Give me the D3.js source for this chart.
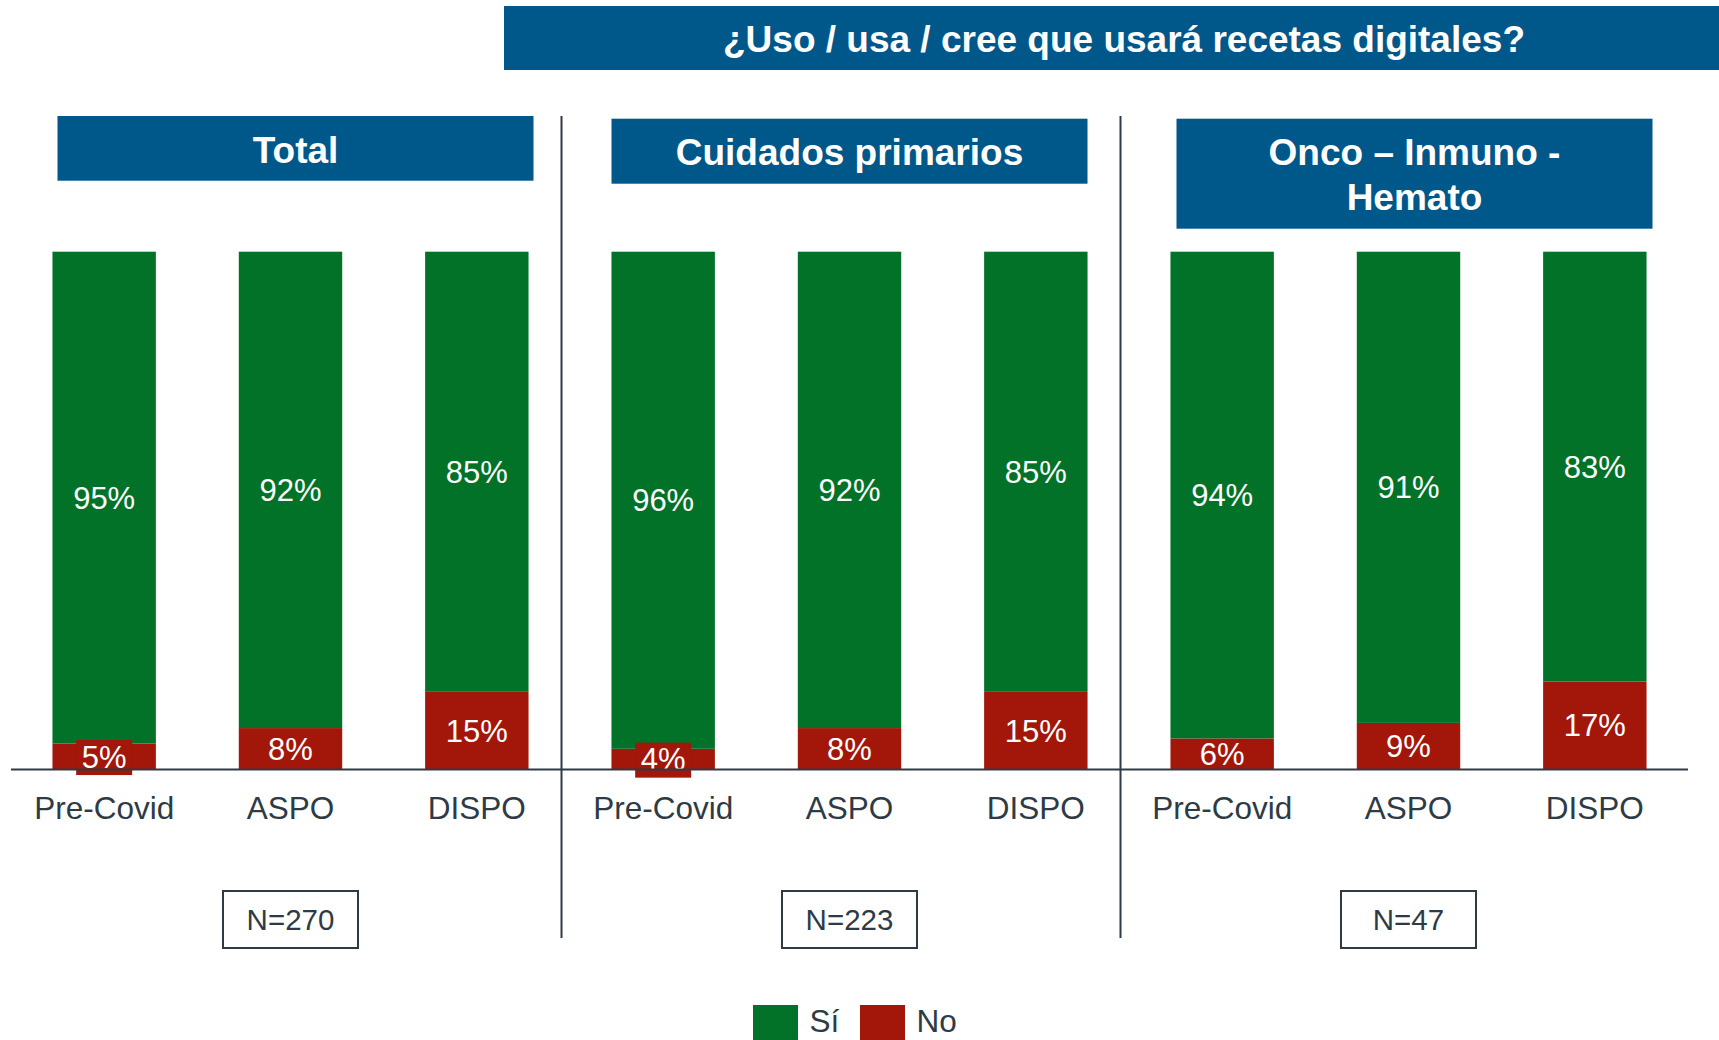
<!DOCTYPE html>
<html>
<head>
<meta charset="utf-8">
<script src="https://cdn.jsdelivr.net/npm/d3@7"></script>
<style>
  html, body { margin: 0; padding: 0; background: #fff; }
  svg { display: block; font-family: "Liberation Sans", Arial, sans-serif; }
</style>
</head>
<body>
<svg id="chart" width="1719" height="1040"></svg>
<script>
// data
var title = "¿Uso / usa / cree que usará recetas digitales?";
var groups = ["Total", "Cuidados primarios", "Onco – Inmuno - Hemato"];
var groupLines = [["Total"], ["Cuidados primarios"], ["Onco – Inmuno -", "Hemato"]];
var periods = ["Pre-Covid", "ASPO", "DISPO"];
var si = [[95, 92, 85], [96, 92, 85], [94, 91, 83]];
var no = [[5, 8, 15], [4, 8, 15], [6, 9, 17]];
var sampleN = ["N=270", "N=223", "N=47"];
var legendLabels = ["Sí", "No"];

var BLUE = "#00578a", GREEN = "#037229", RED = "#a2170a", DARK = "#2e3b45";

var svg = d3.select("#chart");

var x0 = d3.scaleBand().domain(groups).range([11, 1688]).padding(0);
var x1 = d3.scaleBand().domain(periods).range([0, x0.bandwidth()])
  .paddingInner(0.445).paddingOuter(0.2225);
var y = d3.scaleLinear().domain([0, 100]).range([769.5, 251.7]);
var color = d3.scaleOrdinal().domain(legendLabels).range([GREEN, RED]);

// title banner
svg.append("rect").attr("x", 504).attr("y", 6).attr("width", 1240).attr("height", 64).attr("fill", BLUE);
svg.append("text").attr("x", 1124).attr("y", 52).attr("text-anchor", "middle")
  .attr("fill", "#fff").attr("font-weight", "bold").attr("font-size", 37).text(title);

// group header boxes
var headTop = [116, 118.7, 118.7];
var headH = [64.7, 65, 110];
var headDx = [5, 0, 6];
groups.forEach(function (g, gi) {
  var cx = x0(g) + x0.bandwidth() / 2 + headDx[gi];
  svg.append("rect").attr("x", cx - 238).attr("y", headTop[gi]).attr("width", 476).attr("height", headH[gi]).attr("fill", BLUE);
  var t = svg.append("text").attr("text-anchor", "middle").attr("fill", "#fff")
    .attr("font-weight", "bold").attr("font-size", 37);
  groupLines[gi].forEach(function (line, li) {
    t.append("tspan").attr("x", cx).attr("y", headTop[gi] + 46.5 + li * 45).text(line);
  });
});

// dividers
groups.slice(1).forEach(function (g) {
  svg.append("line").attr("x1", x0(g) - 8.5).attr("x2", x0(g) - 8.5)
    .attr("y1", 116).attr("y2", 938).attr("stroke", DARK).attr("stroke-width", 2);
});

groups.forEach(function (g, gi) {
  var gg = svg.append("g").attr("transform", "translate(" + x0(g) + ",0)");
  var rows = periods.map(function (p, i) { return { p: p, si: si[gi][i], no: no[gi][i] }; });

  // No (bottom)
  gg.selectAll("rect.no").data(rows).enter().append("rect").attr("class", "no")
    .attr("x", function (d) { return x1(d.p); })
    .attr("y", function (d) { return y(d.no); })
    .attr("width", x1.bandwidth())
    .attr("height", function (d) { return y(0) - y(d.no); })
    .attr("fill", color("No"));
  // Sí (top)
  gg.selectAll("rect.si").data(rows).enter().append("rect").attr("class", "si")
    .attr("x", function (d) { return x1(d.p); })
    .attr("y", function (d) { return y(d.no + d.si); })
    .attr("width", x1.bandwidth())
    .attr("height", function (d) { return y(d.no) - y(d.no + d.si); })
    .attr("fill", color("Sí"));

  // Sí labels
  gg.selectAll("text.si").data(rows).enter().append("text").attr("class", "si")
    .attr("x", function (d) { return x1(d.p) + x1.bandwidth() / 2; })
    .attr("y", function (d) { return (y(d.no) + y(d.no + d.si)) / 2 + 11; })
    .attr("text-anchor", "middle").attr("fill", "#fff").attr("font-size", 31)
    .text(function (d) { return d.si + "%"; });

  // small No labels get a red box behind them
  gg.selectAll("rect.lbl").data(rows.filter(function (d) { return d.no <= 5; })).enter()
    .append("rect").attr("class", "lbl")
    .attr("x", function (d) { return x1(d.p) + x1.bandwidth() / 2 - 28; })
    .attr("y", function (d) { return (y(0) + y(d.no)) / 2 - 16.5; })
    .attr("width", 56).attr("height", 35).attr("fill", color("No"));

  gg.selectAll("text.no").data(rows).enter().append("text").attr("class", "no")
    .attr("x", function (d) { return x1(d.p) + x1.bandwidth() / 2; })
    .attr("y", function (d) { return (y(0) + y(d.no)) / 2 + 11; })
    .attr("text-anchor", "middle").attr("fill", "#fff").attr("font-size", 31)
    .text(function (d) { return d.no + "%"; });

  // category axis
  var ax = gg.append("g").attr("transform", "translate(0," + y(0) + ")")
    .call(d3.axisBottom(x1).tickSize(0).tickPadding(27));
  ax.select(".domain").remove();
  ax.selectAll("text").attr("font-size", 31.5).attr("fill", DARK)
    .attr("font-family", "Liberation Sans, Arial, sans-serif");

  // N box
  var cx = x0.bandwidth() / 2;
  gg.append("rect").attr("x", cx - 67.5).attr("y", 891).attr("width", 135).attr("height", 57)
    .attr("fill", "none").attr("stroke", DARK).attr("stroke-width", 2);
  gg.append("text").attr("x", cx).attr("y", 930).attr("text-anchor", "middle")
    .attr("font-size", 29.5).attr("fill", DARK).text(sampleN[gi]);
});

// baseline
svg.append("line").attr("x1", 11).attr("x2", 1688).attr("y1", y(0)).attr("y2", y(0))
  .attr("stroke", DARK).attr("stroke-width", 2);

// legend (nudged up a little so the text is not clipped by the page edge)
var legX = [753, 860];
legendLabels.forEach(function (l, i) {
  svg.append("rect").attr("x", legX[i]).attr("y", 1005).attr("width", 45).attr("height", 45).attr("fill", color(l));
  svg.append("text").attr("x", legX[i] + 56.5).attr("y", 1032).attr("font-size", 31.5).attr("fill", DARK).text(l);
});
</script>
</body>
</html>
